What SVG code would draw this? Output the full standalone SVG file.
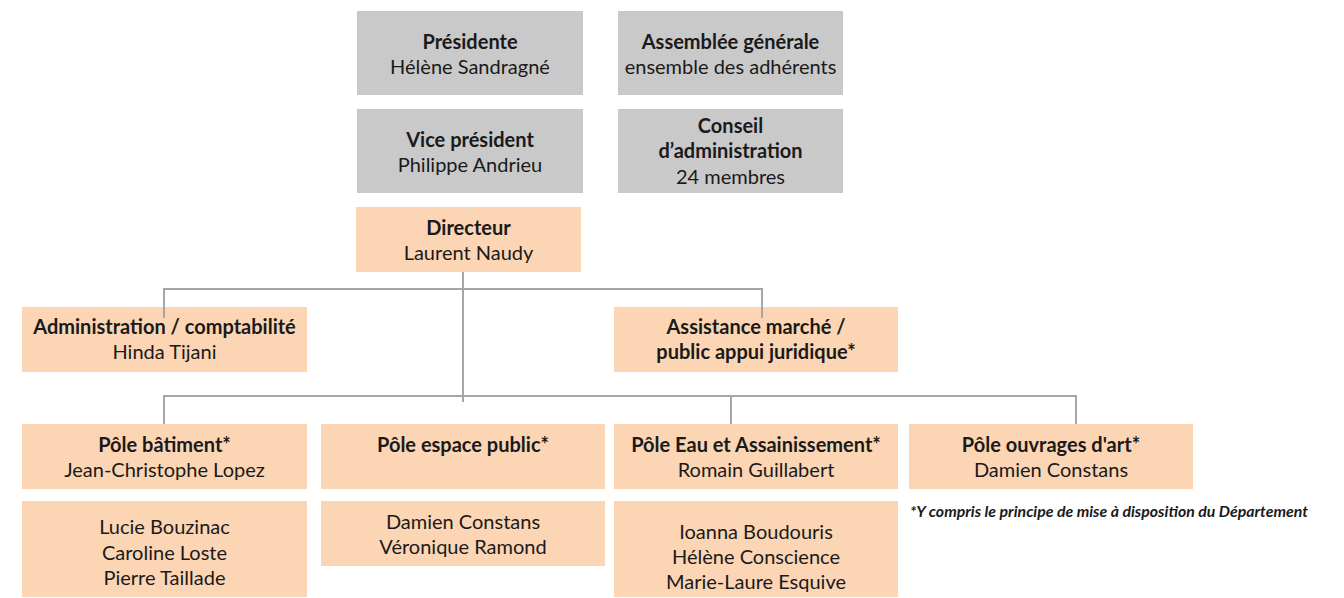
<svg xmlns="http://www.w3.org/2000/svg" width="1344" height="598" viewBox="0 0 1344 598">
<style>
.g{fill:#c9c9c9}
.p{fill:#fcd5b4}
text{font-family:Lato,"Liberation Sans",sans-serif;font-size:20px;fill:#1a1a1a;text-anchor:middle}
.b{font-weight:bold}
.fn{font-size:15.5px;font-weight:bold;font-style:italic;text-anchor:start}
.c{fill:none;stroke:#a6a6a6;stroke-width:2}
</style>
<rect width="1344" height="598" fill="#fff"/>
<g id="presidente"><rect class="g" x="357" y="11" width="226" height="84"/><text class="b" x="470" y="49">Présidente</text><text x="470" y="74">Hélène Sandragné</text></g>
<g id="assemblee"><rect class="g" x="618" y="11" width="225" height="84"/><text class="b" x="730.5" y="49">Assemblée générale</text><text x="730.5" y="74">ensemble des adhérents</text></g>
<g id="vice"><rect class="g" x="357" y="109" width="226" height="84"/><text class="b" x="470" y="147">Vice président</text><text x="470" y="172">Philippe Andrieu</text></g>
<g id="conseil"><rect class="g" x="618" y="109" width="225" height="84"/><text class="b" x="730.5" y="133">Conseil</text><text class="b" x="730.5" y="158">d’administration</text><text x="730.5" y="184">24 membres</text></g>
<g id="directeur"><rect class="p" x="356" y="207" width="225" height="65"/><text class="b" x="468.5" y="235">Directeur</text><text x="468.5" y="260">Laurent Naudy</text></g>
<g id="admin"><rect class="p" x="22" y="307" width="285" height="65"/><text class="b" x="164.5" y="334">Administration / comptabilité</text><text x="164.5" y="359">Hinda Tijani</text></g>
<g id="assistance"><rect class="p" x="614" y="307" width="284" height="65"/><text class="b" x="756" y="334">Assistance marché /</text><text class="b" x="756" y="359">public appui juridique*</text></g>
<g id="pole-batiment"><rect class="p" x="22" y="424" width="285" height="65"/><text class="b" x="164.5" y="452">Pôle bâtiment*</text><text x="164.5" y="477">Jean-Christophe Lopez</text></g>
<g id="pole-espace"><rect class="p" x="321" y="424" width="284" height="65"/><text class="b" x="463" y="452">Pôle espace public*</text></g>
<g id="pole-eau"><rect class="p" x="614" y="424" width="284" height="65"/><text class="b" x="756" y="452">Pôle Eau et Assainissement*</text><text x="756" y="477">Romain Guillabert</text></g>
<g id="pole-ouvrages"><rect class="p" x="909" y="424" width="284" height="65"/><text class="b" x="1051" y="452">Pôle ouvrages d'art*</text><text x="1051" y="477">Damien Constans</text></g>
<g id="equipe-batiment"><rect class="p" x="22" y="501" width="285" height="96"/><text x="164.5" y="534">Lucie Bouzinac</text><text x="164.5" y="560">Caroline Loste</text><text x="164.5" y="585">Pierre Taillade</text></g>
<g id="equipe-espace"><rect class="p" x="321" y="501" width="284" height="65"/><text x="463" y="529">Damien Constans</text><text x="463" y="554">Véronique Ramond</text></g>
<g id="equipe-eau"><rect class="p" x="614" y="501" width="284" height="96"/><text x="756" y="539">Ioanna Boudouris</text><text x="756" y="564">Hélène Conscience</text><text x="756" y="589">Marie-Laure Esquive</text></g>
<g id="footnote"><text class="fn" x="910" y="517" textLength="398" lengthAdjust="spacingAndGlyphs">*Y compris le principe de mise à disposition du Département</text></g>
<g id="connectors">
<path class="c" d="M463 272V402"/>
<path class="c" d="M164 318V289H762V318"/>
<path class="c" d="M164 424V396H1076V424"/>
<path class="c" d="M731 396V424"/>
</g>
</svg>
